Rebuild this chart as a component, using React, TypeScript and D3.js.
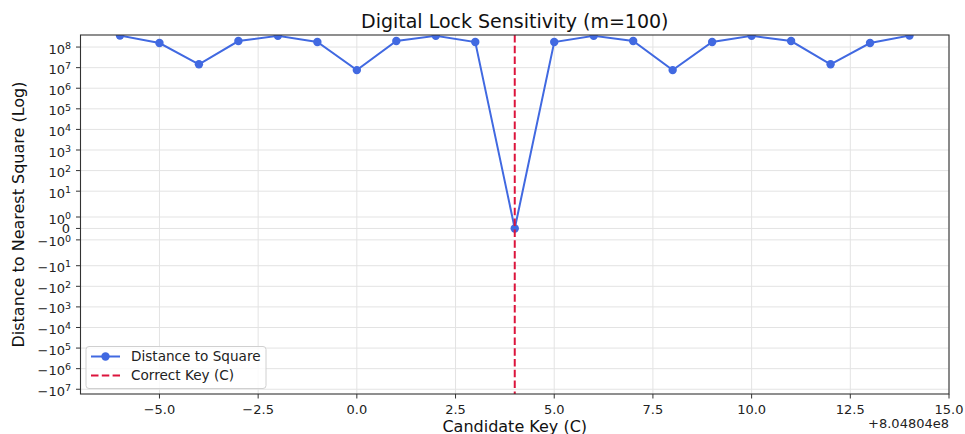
import React, { useEffect, useRef } from "react";
import * as d3 from "d3";

// candidate keys (offset shown as +8.04804e8 on the axis)
const keyOffset = 804804000;
const candidateKeys = [
  804803994, 804803995, 804803996, 804803997, 804803998, 804803999, 804804000,
  804804001, 804804002, 804804003, 804804004, 804804005, 804804006, 804804007,
  804804008, 804804009, 804804010, 804804011, 804804012, 804804013, 804804014,
];
const distances = [
  3.6e8, 1.57e8, 1.45e7, 1.96e8, 3.5e8, 1.75e8, 7.6e6,
  1.96e8, 3.5e8, 1.75e8, 0, 1.75e8, 3.5e8, 1.96e8,
  7.6e6, 1.75e8, 3.5e8, 1.96e8, 1.45e7, 1.57e8, 3.6e8,
];
const correctKey = 804804004;

const xTicks = [-5, -2.5, 0, 2.5, 5, 7.5, 10, 12.5, 15];
const posExponents = [0, 1, 2, 3, 4, 5, 6, 7, 8];
const negExponents = [0, 1, 2, 3, 4, 5, 6, 7];
const xDomain = [-7, 15];
const yLimits = [-1.7e7, 3.85e8];

const W = 965, H = 434;
const M = { left: 80.5, right: 949, top: 35, bottom: 394 };
const FONT = "DejaVu Sans, Verdana, sans-serif";

// matplotlib-style symlog (linthresh=2, linscale=1, base 10)
const linthresh = 2;
const linscaleAdj = 1 / (1 - 1 / 10);
function symlog(v: number) {
  const a = Math.abs(v);
  if (a <= linthresh) return v * linscaleAdj;
  return Math.sign(v) * linthresh * (linscaleAdj + Math.log10(a / linthresh));
}

export default function App() {
  const ref = useRef<SVGSVGElement>(null);

  useEffect(() => {
    const svg = d3.select(ref.current);
    svg.selectAll("*").remove();

    const x = d3.scaleLinear().domain(xDomain).range([M.left, M.right]);
    const yLin = d3.scaleLinear().domain(yLimits.map(symlog)).range([M.bottom, M.top]);
    const y = (v: number) => yLin(symlog(v));

    svg.append("rect").attr("width", W).attr("height", H).attr("fill", "#fff");

    svg.append("defs").append("clipPath").attr("id", "plotclip")
      .append("rect")
      .attr("x", M.left).attr("y", M.top)
      .attr("width", M.right - M.left).attr("height", M.bottom - M.top);

    const yTicks = [
      ...posExponents.map((e) => ({ v: Math.pow(10, e), sign: "", e })),
      { v: 0, sign: "", e: -1 },
      ...negExponents.map((e) => ({ v: -Math.pow(10, e), sign: "\u2212", e })),
    ];

    // grid
    const grid = svg.append("g").attr("stroke", "#e3e3e3").attr("stroke-width", 1);
    grid.selectAll("line.gx").data(xTicks).enter().append("line")
      .attr("x1", (d) => x(d)).attr("x2", (d) => x(d))
      .attr("y1", M.top).attr("y2", M.bottom);
    grid.selectAll("line.gy").data(yTicks).enter().append("line")
      .attr("x1", M.left).attr("x2", M.right)
      .attr("y1", (d) => y(d.v)).attr("y2", (d) => y(d.v));

    // data line + markers
    const pts = candidateKeys.map((k, i) => [k - keyOffset, distances[i]] as [number, number]);
    const plot = svg.append("g").attr("clip-path", "url(#plotclip)");
    const line = d3.line<[number, number]>().x((d) => x(d[0])).y((d) => y(d[1]));
    plot.append("path").datum(pts)
      .attr("d", line)
      .attr("fill", "none")
      .attr("stroke", "#4169E1")
      .attr("stroke-width", 2);
    plot.selectAll("circle").data(pts).enter().append("circle")
      .attr("cx", (d) => x(d[0])).attr("cy", (d) => y(d[1]))
      .attr("r", 4.2).attr("fill", "#4169E1");

    // correct key marker
    plot.append("line")
      .attr("x1", x(correctKey - keyOffset)).attr("x2", x(correctKey - keyOffset))
      .attr("y1", M.top).attr("y2", M.bottom)
      .attr("stroke", "#DC143C").attr("stroke-width", 2)
      .attr("stroke-dasharray", "7.5,3.3");

    // spines
    svg.append("rect")
      .attr("x", M.left).attr("y", M.top)
      .attr("width", M.right - M.left).attr("height", M.bottom - M.top)
      .attr("fill", "none").attr("stroke", "#333").attr("stroke-width", 1.1);

    // x ticks
    const xt = svg.append("g").attr("font-family", FONT).attr("font-size", 13).attr("fill", "#222");
    xTicks.forEach((t) => {
      xt.append("line").attr("x1", x(t)).attr("x2", x(t))
        .attr("y1", M.bottom).attr("y2", M.bottom + 4.5)
        .attr("stroke", "#333").attr("stroke-width", 1);
      xt.append("text").attr("x", x(t)).attr("y", M.bottom + 20)
        .attr("text-anchor", "middle")
        .text(d3.format(".1f")(t).replace("-", "\u2212"));
    });
    xt.append("text").attr("x", 949).attr("y", 428).attr("text-anchor", "end")
      .text("+8.04804e8");

    // y ticks
    const yt = svg.append("g").attr("font-family", FONT).attr("font-size", 13).attr("fill", "#222");
    yTicks.forEach((t) => {
      const py = y(t.v);
      yt.append("line").attr("x1", M.left - 4.5).attr("x2", M.left)
        .attr("y1", py).attr("y2", py)
        .attr("stroke", "#333").attr("stroke-width", 1);
      if (t.e < 0) {
        yt.append("text").attr("x", 70).attr("y", py + 4.7)
          .attr("text-anchor", "end").text("0");
      } else {
        const txt = yt.append("text").attr("x", 71).attr("y", py + 6.5)
          .attr("text-anchor", "end");
        txt.append("tspan").text(t.sign + "10");
        txt.append("tspan").attr("font-size", 9.5).attr("dy", -4.8).text(String(t.e));
      }
    });

    // labels
    svg.append("text").attr("x", (M.left + M.right) / 2).attr("y", 28)
      .attr("text-anchor", "middle").attr("font-family", FONT).attr("font-size", 19)
      .attr("fill", "#111").text("Digital Lock Sensitivity (m=100)");
    svg.append("text").attr("x", (M.left + M.right) / 2).attr("y", 432)
      .attr("text-anchor", "middle").attr("font-family", FONT).attr("font-size", 16)
      .attr("fill", "#111").text("Candidate Key (C)");
    svg.append("text")
      .attr("transform", `translate(24,${(M.top + M.bottom) / 2}) rotate(-90)`)
      .attr("text-anchor", "middle").attr("font-family", FONT).attr("font-size", 16)
      .attr("fill", "#111").text("Distance to Nearest Square (Log)");

    // legend
    const lg = svg.append("g").attr("font-family", FONT).attr("font-size", 13.6).attr("fill", "#222");
    lg.append("rect").attr("x", 86).attr("y", 346.5).attr("width", 180).attr("height", 42)
      .attr("rx", 3).attr("fill", "#fff").attr("fill-opacity", 0.8)
      .attr("stroke", "#d0d0d0").attr("stroke-width", 1);
    lg.append("line").attr("x1", 91).attr("x2", 120).attr("y1", 356.5).attr("y2", 356.5)
      .attr("stroke", "#4169E1").attr("stroke-width", 2);
    lg.append("circle").attr("cx", 105.5).attr("cy", 356.5).attr("r", 4.2).attr("fill", "#4169E1");
    lg.append("text").attr("x", 131).attr("y", 361.3).text("Distance to Square");
    lg.append("line").attr("x1", 91).attr("x2", 120).attr("y1", 375.5).attr("y2", 375.5)
      .attr("stroke", "#DC143C").attr("stroke-width", 2).attr("stroke-dasharray", "7.5,3.3");
    lg.append("text").attr("x", 131).attr("y", 380.3).text("Correct Key (C)");
  }, []);

  return (
    <div style={{ position: "fixed", left: 0, top: 0 }}>
      <svg ref={ref} width={W} height={H} style={{ display: "block" }} />
    </div>
  );
}
